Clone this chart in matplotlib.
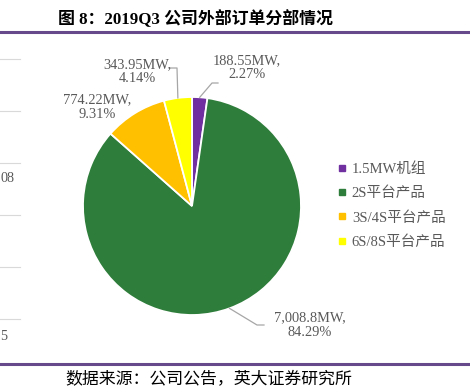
import numpy as np
import matplotlib
matplotlib.use("Agg")
import matplotlib.pyplot as plt
from matplotlib.lines import Line2D

categories = ["1.5MW机组", "2S平台产品", "3S/4S平台产品", "6S/8S平台产品"]
values_mw = [188.55, 7008.8, 774.22, 343.95]
value_labels = ["188.55MW", "7,008.8MW", "774.22MW", "343.95MW"]
percent_labels = ["2.27%", "84.29%", "9.31%", "4.14%"]
colors = ["#7030A0", "#2E7D3A", "#FFC000", "#FFFF00"]

W, H = 470, 388
fig = plt.figure(figsize=(W / 100, H / 100), dpi=100)
FAM = ["Liberation Serif", "Noto Sans CJK SC"]
GRAY = "#595959"

def fx(px):
    return px / W

def fy(py):
    return 1 - py / H

# pie axes: centre (192, 206) px, radius 109 px
cx, cy, R = 192, 206, 109
ax = fig.add_axes([fx(cx - R), fy(cy + R), 2 * R / W, 2 * R / H])
wedges, _ = ax.pie(values_mw, colors=colors, startangle=90, counterclock=False,
                   wedgeprops=dict(edgecolor="white", linewidth=1.3))
ax.set_xlim(-1, 1)
ax.set_ylim(-1, 1)
ax.set_aspect("equal")
ax.axis("off")

def d(px, py):
    return ((px - cx) / R, (cy - py) / R)

# label positions (px) and leader elbows (px)
label_pos = [(247, 68), (310, 325), (97, 107), (137, 71.5)]
elbows = [[(212, 83), (218, 83)], [(257, 325), (264, 325)], None, [(177, 68), (170, 68)]]

for i, w in enumerate(wedges):
    mid = np.deg2rad((w.theta1 + w.theta2) / 2)
    tx, ty = d(*label_pos[i])
    ax.text(tx, ty, f"{value_labels[i]},\n{percent_labels[i]}", ha="center", va="center",
            multialignment="center", fontsize=10.4, color=GRAY, family=FAM,
            linespacing=1.1, clip_on=False)
    if elbows[i] is not None:
        pts = [(np.cos(mid), np.sin(mid))] + [d(*p) for p in elbows[i]]
        xs, ys = zip(*pts)
        ax.plot(xs, ys, color="#A6A6A6", lw=0.9, clip_on=False)

# legend
handles = [Line2D([0], [0], marker="s", linestyle="none", markersize=4.2,
                  markerfacecolor=c, markeredgecolor=c) for c in colors]
leg = fig.legend(handles, categories, loc="upper left",
                 bbox_to_anchor=(fx(338), fy(162)), frameon=False,
                 prop=dict(family=FAM, size=10.5), labelcolor=GRAY,
                 handlelength=0.5, handletextpad=0.45, labelspacing=0.74,
                 borderaxespad=0, borderpad=0)

# title and rules
fig.text(fx(58), fy(19), "图 8：2019Q3 公司外部订单分部情况", ha="left", va="center",
         fontsize=12.2, fontweight="bold", family=FAM, color="black")
fig.add_artist(Line2D([0, 1], [fy(32), fy(32)], color="#65498A", lw=2.2))
fig.add_artist(Line2D([0, 1], [fy(364), fy(364)], color="#65498A", lw=2.2))
fig.text(fx(65), fy(378), "数据来源：公司公告，英大证券研究所", ha="left", va="center",
         fontsize=12.2, family=["Noto Sans CJK SC"], fontweight="medium", color="black")

# remnants of neighbouring chart at left edge
for gy in [59, 111, 163, 215, 267, 319]:
    fig.add_artist(Line2D([0, fx(20)], [fy(gy), fy(gy)], color="#D9D9D9", lw=0.8))
fig.text(fx(0.5), fy(179), "08", ha="left", va="center", fontsize=10.3, family=FAM, color=GRAY)
fig.text(fx(0.5), fy(336), "5", ha="left", va="center", fontsize=10.3, family=FAM, color=GRAY)

fig.savefig("out.png", dpi=100)
